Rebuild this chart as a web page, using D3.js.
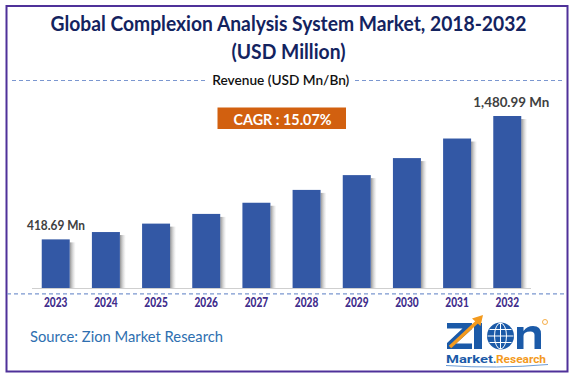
<!DOCTYPE html>
<html><head><meta charset="utf-8">
<script src="https://cdn.jsdelivr.net/npm/d3@7"></script>
<style>html,body{margin:0;padding:0;background:#fff}svg{display:block}</style>
</head><body>
<svg id="c" width="576" height="379"></svg>
<script>
const years = ["2023","2024","2025","2026","2027","2028","2029","2030","2031","2032"];
const revenue = [418.69, 481.8, 554.4, 637.9, 734.1, 844.7, 972.0, 1118.5, 1287.1, 1480.99];
const firstLabel = "418.69 Mn";
const lastLabel = "1,480.99 Mn";
const titleLines = ["Global Complexion Analysis System Market, 2018-2032", "(USD Million)"];
const subtitle = "Revenue (USD Mn/Bn)";
const cagrText = "CAGR : 15.07%";
const sourceText = "Source: Zion Market Research";

const svg = d3.select("#c");
const F = "Lato, 'Open Sans', sans-serif";

// frame
svg.append("rect").attr("x",6.5).attr("y",6).attr("width",561).attr("height",365.5)
  .attr("fill","none").attr("stroke","#4f3199").attr("stroke-width",2);

// title
const tw = [476, 114];
titleLines.forEach((t,i)=>{
  svg.append("text").attr("x",288.5).attr("y",[31,59][i]).attr("text-anchor","middle")
    .attr("font-family",F).attr("font-weight","bold").attr("font-size",20)
    .attr("fill","#13235f").attr("textLength",tw[i]).attr("lengthAdjust","spacingAndGlyphs").text(t);
});

// subtitle with dashed lines
svg.append("line").attr("x1",12).attr("x2",205).attr("y1",80.5).attr("y2",80.5)
  .attr("stroke","#7b97d0").attr("stroke-width",1.2).attr("stroke-dasharray","4,3");
svg.append("line").attr("x1",355).attr("x2",563).attr("y1",80.5).attr("y2",80.5)
  .attr("stroke","#7b97d0").attr("stroke-width",1.2).attr("stroke-dasharray","4,3");
svg.append("text").attr("x",280.8).attr("y",84.5).attr("text-anchor","middle")
  .attr("font-family",F).attr("font-weight","600").attr("font-size",14)
  .attr("fill","#111").attr("textLength",137).attr("lengthAdjust","spacingAndGlyphs").text(subtitle);

// CAGR box
svg.append("rect").attr("x",217.5).attr("y",107.5).attr("width",128.5).attr("height",21.5).attr("fill","#d2600f");
svg.append("text").attr("x",282.5).attr("y",125).attr("text-anchor","middle")
  .attr("font-family",F).attr("font-weight","bold").attr("font-size",15.5)
  .attr("fill","#fff").attr("textLength",98).attr("lengthAdjust","spacingAndGlyphs").text(cagrText);

// scales
const x = d3.scaleBand().domain(years).range([31,532]).paddingInner(0.442).paddingOuter(0.214);
const y = d3.scaleLinear().domain([0, d3.max(revenue)]).range([288, 116]);

// shadow gradient
const defs = svg.append("defs");
const g = defs.append("linearGradient").attr("id","sh").attr("x1","0").attr("x2","1").attr("y1","0").attr("y2","0");
g.append("stop").attr("offset","0").attr("stop-color","#6e6e6e").attr("stop-opacity",0.75);
g.append("stop").attr("offset","1").attr("stop-color","#bbbbbb").attr("stop-opacity",0);

const data = years.map((yr,i)=>({yr, v:revenue[i]}));
svg.append("g").selectAll("rect").data(data).join("rect")
  .attr("x",d=>x(d.yr)+x.bandwidth()).attr("y",d=>y(d.v)+3)
  .attr("width",6).attr("height",d=>288-y(d.v)-3).attr("fill","url(#sh)");

// baseline
svg.append("line").attr("x1",32).attr("x2",531).attr("y1",288.5).attr("y2",288.5)
  .attr("stroke","#cfcfcf").attr("stroke-width",1.2);

svg.append("g").selectAll("rect").data(data).join("rect")
  .attr("x",d=>x(d.yr)).attr("y",d=>y(d.v)).attr("width",x.bandwidth())
  .attr("height",d=>288-y(d.v)).attr("fill","#3358a5");

// dashed line below
svg.append("line").attr("x1",7).attr("x2",564).attr("y1",293.8).attr("y2",293.8)
  .attr("stroke","#7b97d0").attr("stroke-width",1.2).attr("stroke-dasharray","4,3");

// x axis labels
const xa = svg.append("g").attr("transform","translate(0,306.5)")
  .call(d3.axisBottom(x).tickSize(0).tickPadding(0));
xa.select(".domain").remove();
xa.selectAll("text").attr("dy",0).attr("y",0).attr("font-family",F).attr("font-weight","900")
  .attr("font-size",12.5).attr("fill","#3f2d8c").attr("textLength",23.5).attr("lengthAdjust","spacingAndGlyphs");

// value labels
svg.append("text").attr("x",56).attr("y",229.5).attr("text-anchor","middle")
  .attr("font-family",F).attr("font-weight","bold").attr("font-size",13)
  .attr("fill","#404040").attr("textLength",58).attr("lengthAdjust","spacingAndGlyphs").text(firstLabel);
svg.append("text").attr("x",511.3).attr("y",107.3).attr("text-anchor","middle")
  .attr("font-family",F).attr("font-weight","bold").attr("font-size",13)
  .attr("fill","#404040").attr("textLength",76).attr("lengthAdjust","spacingAndGlyphs").text(lastLabel);

// source
svg.append("text").attr("x",30).attr("y",341.5)
  .attr("font-family",F).attr("font-size",16)
  .attr("fill","#2e6fb0").attr("textLength",193).attr("lengthAdjust","spacingAndGlyphs").text(sourceText);

// logo (letters drawn as shapes)
const L = svg.append("g");
const blue = "#1b5aa8", orange = "#f39a1e";
L.append("path").attr("d","M447,323 H472 V329 L456,343.5 H472 V349 H447 V343 L462.5,328.5 H447 Z").attr("fill",blue);
L.append("rect").attr("x",474).attr("y",323).attr("width",8).attr("height",26).attr("fill",blue);
L.append("line").attr("x1",450).attr("y1",347).attr("x2",478).attr("y2",321)
  .attr("stroke",orange).attr("stroke-width",3.5);
L.append("path").attr("d","M472,318.5 L483,315 L480.5,326 Z").attr("fill",orange);
const gl = L.append("g").attr("transform","translate(500.5,336)");
gl.append("circle").attr("r",13.5).attr("fill",blue);
gl.append("ellipse").attr("rx",6).attr("ry",13).attr("fill","none").attr("stroke","#fff").attr("stroke-width",1);
gl.append("line").attr("x1",-13).attr("x2",13).attr("stroke","#fff").attr("stroke-width",1);
gl.append("line").attr("x1",-11).attr("x2",11).attr("y1",-6.5).attr("y2",-6.5).attr("stroke","#fff").attr("stroke-width",1);
gl.append("line").attr("x1",-11).attr("x2",11).attr("y1",6.5).attr("y2",6.5).attr("stroke","#fff").attr("stroke-width",1);
gl.append("line").attr("y1",-13).attr("y2",13).attr("stroke","#fff").attr("stroke-width",1);
L.append("path").attr("d","M517,349 V327 H523.5 V331 Q527,326 533,326 Q541,326 541,334 V349 H534.5 V335 Q534.5,331.5 530.5,331.5 Q523.5,331.5 523.5,336 V349 Z").attr("fill",blue);
L.append("circle").attr("cx",545).attr("cy",322).attr("r",2.5).attr("fill","none").attr("stroke",orange).attr("stroke-width",0.8);
L.append("text").attr("x",446).attr("y",363).attr("font-family","Roboto, sans-serif").attr("font-weight","bold")
  .attr("font-size",11.5).attr("fill",blue).attr("textLength",47).attr("lengthAdjust","spacingAndGlyphs").text("Market");
L.append("text").attr("x",493).attr("y",363).attr("font-family","Roboto, sans-serif").attr("font-weight","bold")
  .attr("font-size",11.5).attr("fill",blue).text(".");
L.append("text").attr("x",496).attr("y",363).attr("font-family","Roboto, sans-serif").attr("font-weight","bold")
  .attr("font-size",11.5).attr("fill",orange).attr("textLength",50).attr("lengthAdjust","spacingAndGlyphs").text("Research");
L.append("path").attr("d","M446,365.5 Q496,369 548,364.5").attr("fill","none").attr("stroke","#6b9bd6").attr("stroke-width",1);
</script>
</body></html>
